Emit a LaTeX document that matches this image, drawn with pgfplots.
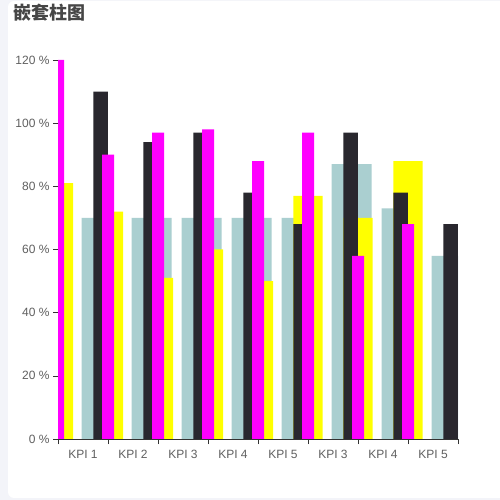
\documentclass[border=0pt]{standalone}
\usepackage{fontspec}
\setmainfont{Liberation Sans}
\newfontfamily\cjk{Noto Sans CJK SC}
\usepackage{pgfplots}
\pgfplotsset{compat=1.18}

\definecolor{kteal}{RGB}{170,207,208}
\definecolor{kdark}{RGB}{41,39,46}
\definecolor{kmag}{RGB}{255,0,255}
\definecolor{kyel}{RGB}{255,255,0}
\definecolor{bgl}{RGB}{243,244,249}
\definecolor{axisc}{RGB}{51,51,51}
\definecolor{labc}{RGB}{96,96,96}
\definecolor{titc}{RGB}{70,70,70}

\begin{document}
\begin{tikzpicture}
\useasboundingbox (0,0) rectangle (500pt,500pt);
\fill[bgl] (0,0) rectangle (500pt,500pt);
\fill[white, rounded corners=6pt] (8pt,2pt) rectangle (520pt,499pt);
\node[anchor=base west, inner sep=0pt, text=titc] at (13pt,480pt)
  {\fontsize{18}{20}\selectfont\cjk\bfseries 嵌套柱图};

\begin{axis}[
  at={(58pt,61pt)}, anchor=south west,
  scale only axis, width=400pt, height=379pt,
  xmin=0, xmax=8, ymin=0, ymax=120,
  axis x line*=bottom, axis y line*=left,
  axis line style={color=axisc},
  tick align=outside,
  major tick length=5pt, minor tick length=5pt,
  every tick/.style={color=axisc},
  xtick={0.5,1.5,2.5,3.5,4.5,5.5,6.5,7.5},
  xticklabels={KPI 1,KPI 2,KPI 3,KPI 4,KPI 5,KPI 3,KPI 4,KPI 5},
  major x tick style={draw=none},
  minor xtick={0,1,2,3,4,5,6,7,8},
  ytick={0,20,40,60,80,100,120},
  yticklabels={0 \%,20 \%,40 \%,60 \%,80 \%,100 \%,120 \%},
  tick label style={font=\fontsize{12}{14}\selectfont, text=labc},
  xticklabel style={yshift=-3pt},
]
% light teal, wide
\addplot[ybar, bar width=0.8, bar shift=0pt, fill=kteal, draw=none] coordinates {
  (0.874,70) (1.874,70) (2.874,70) (3.874,70)
  (4.874,70) (5.874,87) (6.874,73) (7.874,58)
};
% yellow, narrow
\addplot[ybar, bar width=0.18, bar shift=0pt, fill=kyel, draw=none] coordinates {
  (0.21,81) (1.21,72) (2.21,51) (3.21,60) (4.21,50)
};
% yellow, wide
\addplot[ybar, bar width=0.587, bar shift=0pt, fill=kyel, draw=none] coordinates {
  (5,77) (6,70) (7,88)
};
% dark
\addplot[ybar, bar width=0.293, bar shift=0pt, fill=kdark, draw=none] coordinates {
  (0.853,110) (1.853,94) (2.853,97) (3.853,78)
  (4.853,68) (5.853,97) (6.853,78) (7.853,68)
};
% magenta
\addplot[ybar, bar width=0.24, bar shift=0pt, fill=kmag, draw=none] coordinates {
  (0,120) (1,90) (2,97) (3,98) (4,88) (5,97) (6,58) (7,68)
};
\end{axis}
\end{tikzpicture}
\end{document}
